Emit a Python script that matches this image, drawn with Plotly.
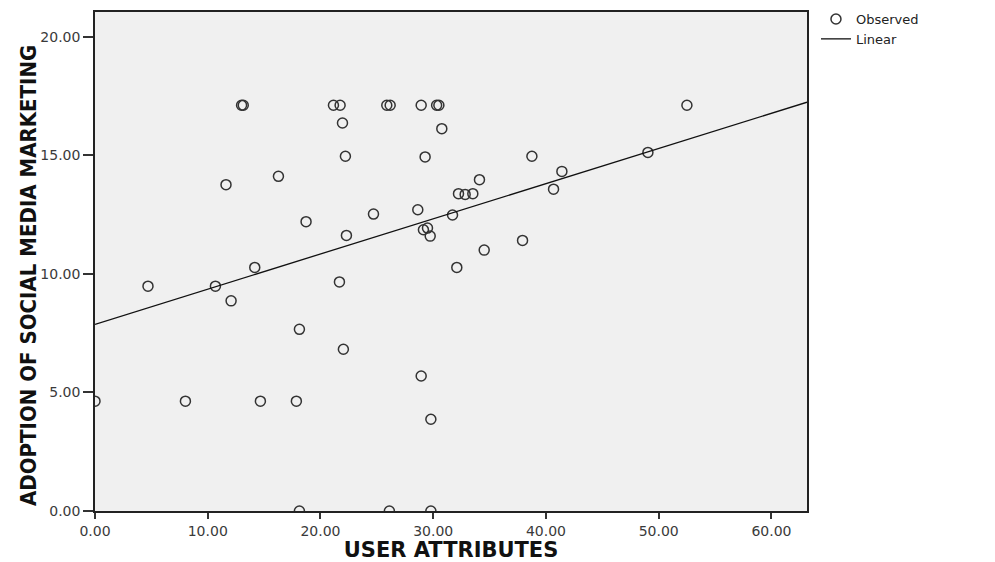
import numpy as np
import plotly.graph_objects as go

user_attributes = [
    13.0, 13.15, 21.15, 21.74, 25.88, 26.18, 28.93, 30.3, 30.5, 52.5,
    21.95, 30.76, 22.21, 29.28, 38.75, 49.04, 41.41, 16.27, 34.1, 11.62,
    32.24, 32.83, 33.51, 40.67, 18.72, 24.70, 28.63, 31.71, 22.3, 29.13,
    29.49, 29.73, 37.92, 34.52, 14.17, 32.09, 4.70, 10.68, 21.68, 12.07,
    18.13, 22.03, 28.93, 0.0, 8.02, 14.67, 17.86, 29.79, 18.13, 26.11, 29.79,
]
adoption_smm = [
    17.11, 17.11, 17.11, 17.11, 17.11, 17.11, 17.11, 17.11, 17.11, 17.11,
    16.36, 16.12, 14.96, 14.93, 14.96, 15.12, 14.32, 14.11, 13.97, 13.76,
    13.38, 13.35, 13.38, 13.57, 12.20, 12.52, 12.70, 12.48, 11.62, 11.86,
    11.93, 11.59, 11.41, 11.00, 10.27, 10.27, 9.48, 9.48, 9.66, 8.86,
    7.66, 6.82, 5.69, 4.63, 4.63, 4.63, 4.63, 3.87, 0.0, 0.0, 0.0,
]

x_ticks = [0, 10, 20, 30, 40, 50, 60]
x_tick_labels = ["0.00", "10.00", "20.00", "30.00", "40.00", "50.00", "60.00"]
y_ticks = [0, 5, 10, 15, 20]
y_tick_labels = ["0.00", "5.00", "10.00", "15.00", "20.00"]

X_RANGE = [0, 63.15]
Y_RANGE = [0, 21.04]

# Linear fit
slope, intercept = np.polyfit(user_attributes, adoption_smm, 1)
fit_x = np.array(X_RANGE)
fit_y = intercept + slope * fit_x

fig = go.Figure()
fig.add_trace(go.Scatter(
    x=user_attributes, y=adoption_smm, mode="markers", name="Observed",
    marker=dict(symbol="circle-open", size=10, color="#333333",
                line=dict(width=1.5, color="#333333")),
))
fig.add_trace(go.Scatter(
    x=fit_x, y=fit_y, mode="lines", name="Linear",
    line=dict(color="#111111", width=1.3),
))

wide_font = "DejaVu Sans, Verdana, sans-serif"
tick_font = dict(family=wide_font, size=14, color="#3a3a3a")

fig.update_layout(
    width=987, height=554,
    margin=dict(l=87, r=188, t=4, b=51, autoexpand=False),
    paper_bgcolor="white", plot_bgcolor="#f0f0f0",
    showlegend=True,
    legend=dict(x=1.0126, y=1.016, xanchor="left", yanchor="top",
                font=dict(family=wide_font, size=13, color="#222222"),
                bgcolor="rgba(0,0,0,0)", tracegroupgap=0),
    xaxis=dict(
        range=X_RANGE, tickvals=x_ticks, ticktext=x_tick_labels,
        showgrid=False, zeroline=False,
        showline=True, linecolor="#222222", linewidth=1.5, mirror=True,
        ticks="outside", ticklen=6, tickwidth=1.5, tickcolor="#333333",
        tickfont=tick_font,
        title=dict(text="<b>USER ATTRIBUTES</b>", standoff=8,
                   font=dict(family=wide_font, size=21, color="#111111")),
    ),
    yaxis=dict(
        range=Y_RANGE, tickvals=y_ticks, ticktext=y_tick_labels,
        showgrid=False, zeroline=False,
        showline=True, linecolor="#222222", linewidth=1.5, mirror=True,
        ticks="outside", ticklen=10, tickwidth=1.5, tickcolor="#333333",
        tickfont=tick_font,
    ),
    annotations=[dict(
        text="<b>ADOPTION OF SOCIAL MEDIA MARKETING</b>",
        xref="paper", yref="paper", x=-0.0927, y=0.473,
        xanchor="center", yanchor="middle", textangle=-90, showarrow=False,
        font=dict(family="DejaVu Sans Condensed, Liberation Sans Narrow, sans-serif",
                  size=22, color="#111111"),
    )],
)

fig.write_html("out.html")
